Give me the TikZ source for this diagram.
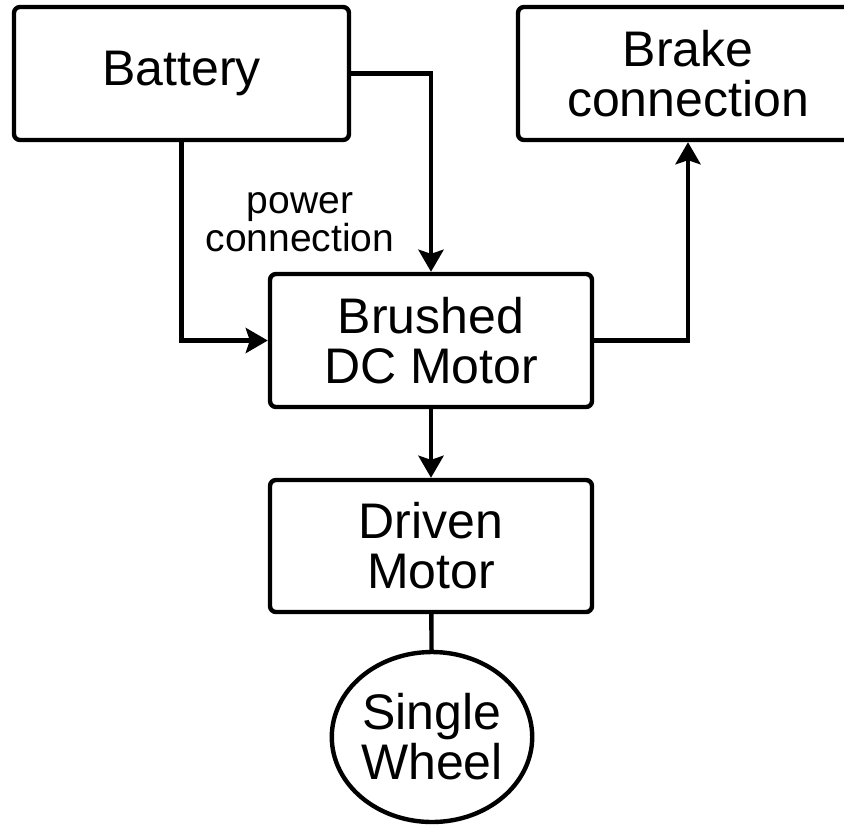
\documentclass[tikz,border=0pt]{standalone}
\usepackage{fontspec}
\setmainfont{Liberation Sans}
\usetikzlibrary{positioning,arrows.meta,shapes.geometric}

\begin{document}
\begin{tikzpicture}[x=0.5pt, y=-0.5pt, >={Stealth[length=11pt,width=12.5pt,inset=2pt]},
  every node/.style={font=\fontsize{25}{25}\selectfont},
  block/.style={rectangle,draw,line width=2.2pt,rounded corners=3pt,minimum height=66.5pt,align=center},
  wheel/.style={ellipse,draw,line width=2.2pt,minimum width=99.5pt,minimum height=85pt,inner sep=0pt,align=center},
  link/.style={->,line width=2.2pt}]

\clip (0,0) rectangle (844,825);

% Top row
\node[block,minimum width=167.5pt] at (181.5,73.5) (battery) {Battery};
\node[block,minimum width=170pt] at (688,73.5) (brake) {Brake\\connection};

% Motor
\node[block,minimum width=161pt] at (431,340.5) (motor) {Brushed\\DC Motor};

% Driven motor and wheel
\node[block,minimum width=161pt,minimum height=66pt] at (431,546) (driven) {Driven\\Motor};
\node[wheel] at (432,737) (wheel) {Single\\Wheel};

% Label
\node[font=\fontsize{19.5}{19}\selectfont,align=center] at (300,222) (power) {power\\connection};

% Connections
\draw[link] (battery.south) |- (motor.west);
\draw[link] (battery.east) -| (motor.north);
\draw[link] (motor.east) -| (brake.south);
\draw[link] (motor) -- (driven);
\draw[line width=2.2pt] (driven) -- (wheel);

\end{tikzpicture}
\end{document}
